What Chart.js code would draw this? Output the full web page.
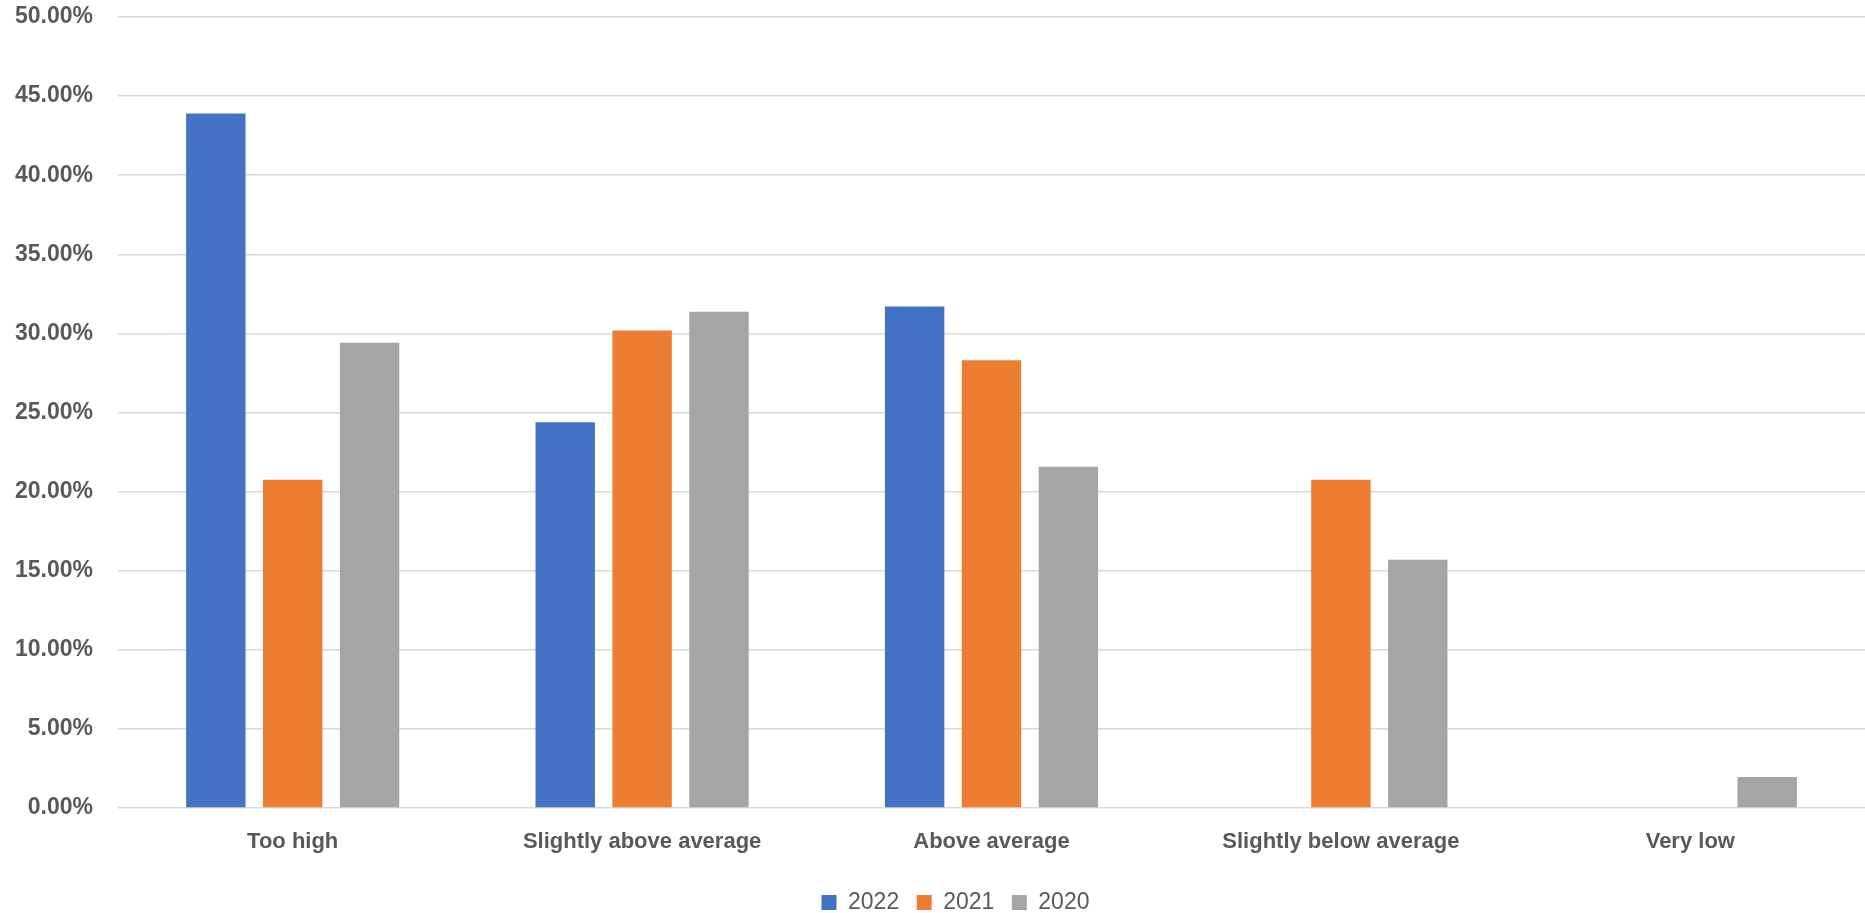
<!DOCTYPE html>
<html>
<head>
<meta charset="utf-8">
<script src="https://cdn.jsdelivr.net/npm/chart.js@4.4.0/dist/chart.umd.min.js"></script>
<style>
  html, body { margin: 0; padding: 0; background: #fff; }
  #wrap { width: 1865px; height: 913px; }
</style>
</head>
<body>
<div id="wrap"><canvas id="chart" width="1865" height="913"></canvas></div>
<script>
// categories and series values (percent)
const categories = ['Too high', 'Slightly above average', 'Above average', 'Slightly below average', 'Very low'];
const values2022 = [43.90, 24.39, 31.71, 0, 0];
const values2021 = [20.75, 30.19, 28.30, 20.75, 0];
const values2020 = [29.41, 31.37, 21.57, 15.69, 1.96];
const yTicks = [0, 5, 10, 15, 20, 25, 30, 35, 40, 45, 50];

const labelColor = '#595959';
const gridColor = '#d9d9d9';

// nudge the legend a little to the right, like the original
const legendShift = {
    id: 'legendShift',
    afterLayout(chart) {
        chart.legend.left += 23;
        chart.legend.right += 23;
    },
};

const ctx = document.getElementById('chart').getContext('2d');
new Chart(ctx, {
    type: 'bar',
    data: {
        labels: categories,
        datasets: [
            { label: '2022', data: values2022, backgroundColor: '#4472c4' },
            { label: '2021', data: values2021, backgroundColor: '#ed7d31' },
            { label: '2020', data: values2020, backgroundColor: '#a5a5a5' },
        ],
    },
    plugins: [legendShift],
    options: {
        responsive: false,
        animation: false,
        categoryPercentage: 0.66,
        barPercentage: 0.773,
        layout: {
            padding: { left: 0, right: 0, top: 0, bottom: -11 },
        },
        plugins: {
            tooltip: { enabled: false },
            legend: {
                position: 'bottom',
                labels: {
                    color: labelColor,
                    boxWidth: 15,
                    boxHeight: 15,
                    padding: 17.5,
                    font: { family: 'Liberation Sans', size: 23 },
                },
            },
        },
        scales: {
            x: {
                grid: { display: false },
                border: { display: false },
                afterFit: (axis) => {
                    axis.height += 5;
                },
                ticks: {
                    color: labelColor,
                    padding: 13,
                    font: { family: 'Liberation Sans', size: 22, weight: 'bold' },
                },
            },
            y: {
                min: 0,
                max: 50,
                afterBuildTicks: (axis) => {
                    axis.ticks = yTicks.map(v => ({ value: v }));
                },
                afterFit: (axis) => {
                    axis.width = 118;
                    axis.paddingTop = 17;
                    axis.paddingBottom = 0;
                },
                grid: { color: gridColor, lineWidth: 1.5, drawTicks: false },
                border: { display: false },
                ticks: {
                    color: labelColor,
                    padding: 25,
                    font: { family: 'Liberation Sans', size: 23, weight: 'bold' },
                    callback: (v) => v.toFixed(2) + '%',
                },
            },
        },
    },
});
</script>
</body>
</html>
